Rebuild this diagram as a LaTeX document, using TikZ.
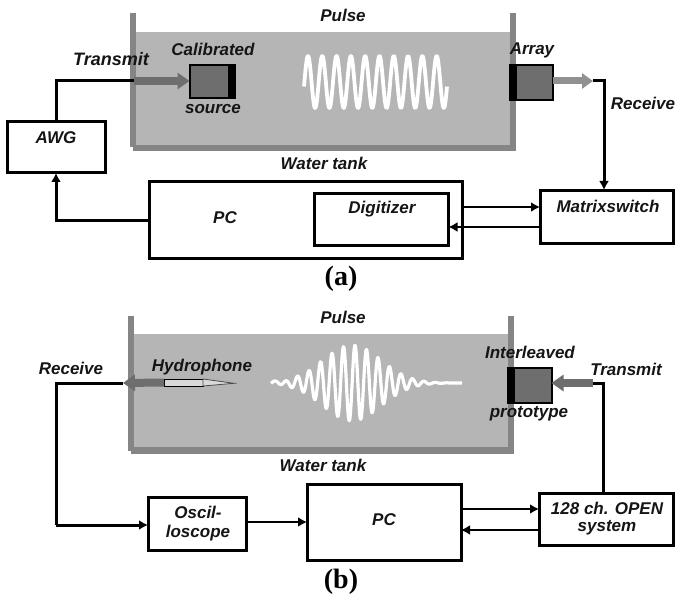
\documentclass[tikz,border=0pt]{standalone}
\usepackage{fontspec}
\setmainfont{Liberation Sans}
\newfontfamily\capfont{Liberation Serif}
\usetikzlibrary{arrows.meta,calc}
\definecolor{water}{HTML}{B5B5B5}
\definecolor{wall}{HTML}{858585}
\definecolor{probe}{HTML}{6E6E6E}
\definecolor{ink}{HTML}{151515}
\tikzset{
  box/.style={draw=black,line width=3pt,fill=white,outer sep=0pt,inner sep=0pt},
  lab/.style={font=\fontsize{17}{19}\selectfont\bfseries\itshape,text=ink,inner sep=0pt},
  biglab/.style={font=\fontsize{18}{20}\selectfont\bfseries\itshape,text=ink,inner sep=0pt},
  caplab/.style={font=\capfont\fontsize{28}{30}\selectfont\bfseries,text=black,inner sep=0pt},
  conn/.style={draw=black,line width=3pt,-{Latex[length=9pt,width=10pt]}},
  plain/.style={draw=black,line width=3pt},
  thin conn/.style={draw=black,line width=2.6pt,-{Latex[length=9pt,width=10pt]}},
  gray arrow/.style={draw=probe,line width=8pt,-{Triangle[length=12pt,width=16pt]}},
  light arrow/.style={draw=wall!90!white,line width=7pt,-{Triangle[length=11pt,width=15pt]}},
  transducer/.style={draw=black,line width=2pt,fill=probe,outer sep=0pt,inner sep=0pt},
  wave/.style={draw=white,line width=3.8pt,line join=round},
}
\begin{document}
\begin{tikzpicture}[x=1pt,y=-1pt]
\useasboundingbox (0,0) rectangle (675,599);
\fill[white] (0,0) rectangle (675,599);

% ---------- panel (a) ----------
\fill[water] (135,32) rectangle (510,145);
\fill[wall] (130,13) rectangle (135.5,147);
\fill[wall] (133,145) rectangle (516,151);
\fill[wall] (510,13) rectangle (516,151);

\draw[wave] plot[domain=304:447,samples=420] (\x,{82-26*sin((\x-304.4)/14.3*360)});

\node[transducer,minimum width=45pt,minimum height=33pt] (source) at (212,81.5) {};
\fill[black] (228,65) rectangle (235,98.5);
\node[transducer,minimum width=43pt,minimum height=35pt] (array) at (531,82.5) {};
\fill[black] (509.5,65) rectangle (517,100);

\node[box,minimum width=98pt,minimum height=51pt] (awg) at (56,147.5) {};
\node[box,minimum width=313pt,minimum height=76pt] (pca) at (305.5,220) {};
\node[box,minimum width=134pt,minimum height=52pt] (dig) at (381.5,219.5) {};
\node[box,minimum width=133pt,minimum height=52pt] (mxs) at (606.5,217) {};

\coordinate (txa) at (134,81);
\coordinate (rxa) at (593,81);
\coordinate (mxin) at (604,190);
\draw[plain] (awg.north) |- (txa);
\draw[gray arrow] (txa) -- (source.west |- txa);
\draw[light arrow] (array.east |- rxa) -- (rxa);
\draw[conn] (rxa) -| (mxin);
\draw[conn] (pca.west) -| (awg.south);
\draw[thin conn] (pca.east |- 0,207) -- (mxs.west |- 0,207);
\draw[thin conn] (mxs.west |- 0,227) -- (dig.east |- 0,227);

\node[lab] (pulsea) at (343,15) {Pulse};
\node[lab] (watera) at (324,163) {Water tank};
\node[biglab] (txlaba) at (111,59) {Transmit};
\node[lab] (cala) at (213,49) {Calibrated};
\node[lab] (srca) at (213,109) {source};
\node[lab] (awglab) at (56,138) {AWG};
\node[lab] (pcalab) at (225,218) {PC};
\node[lab] (diglab) at (382,209) {Digitizer};
\node[lab] (arrlab) at (532,50) {Array};
\node[lab] (rxlaba) at (643,103) {Receive};
\node[lab] (mxslab) at (608,206) {Matrixswitch};
\node[caplab] (capa) at (341,279) {(a)};

% ---------- panel (b) ----------
\fill[water] (134,334) rectangle (508,447);
\fill[wall] (128,316) rectangle (134,451);
\fill[wall] (131,447) rectangle (514,454);
\fill[wall] (508,316) rectangle (514,451);

\draw[wave,line width=3.2pt] plot[domain=271:462,samples=500]
  (\x,{383-38*exp(-(\x-352)*(\x-352)/1682)*sin((\x-355)/11.5*360+90)-1.2*sin((\x-271)/22*360)*exp(-(\x-271)/25)});

\node[transducer,minimum width=44pt,minimum height=35pt] (proto) at (529.5,385) {};
\fill[black] (507.5,367) rectangle (515,403);

\node[box,minimum width=98pt,minimum height=53pt] (osc) at (197,523.5) {};
\node[box,minimum width=154pt,minimum height=76pt] (pcb) at (384,522) {};
\node[box,minimum width=134pt,minimum height=52pt] (ope) at (606,519) {};

\node[draw=black,line width=1pt,fill=black!15,outer sep=0pt,inner sep=0pt,minimum width=39pt,minimum height=7pt] (hyd) at (183.5,382.5) {};
\coordinate (hydtip) at (234,383.3);
\filldraw[draw=black!70,line width=.8pt,fill=black!15] (hyd.north east) -- (hydtip) -- (hyd.south east) -- cycle;

\coordinate (rxb) at (123,383);
\coordinate (rxbc) at (56,525);
\coordinate (txb) at (593,383);
\coordinate (opeout) at (603,492);
\draw[gray arrow] (hyd.west) -- (rxb);
\draw[plain] (rxb) -| (rxbc);
\draw[conn] (rxbc) -- (osc.west |- rxbc);
\draw[thin conn] (osc.east |- 0,522) -- (pcb.west |- 0,522);
\draw[thin conn] (pcb.east |- 0,509) -- (ope.west |- 0,509);
\draw[thin conn] (ope.west |- 0,530) -- (pcb.east |- 0,530);
\draw[plain] (opeout) |- (txb);
\draw[gray arrow] (txb) -- (proto.east |- txb);

\node[lab] (pulseb) at (343,317) {Pulse};
\node[lab] (waterb) at (323,465) {Water tank};
\node[lab] (hydlab) at (202,367) {Hydrophone};
\node[lab] (rxlabb) at (71,368) {Receive};
\node[lab] (osclab1) at (198,512) {Oscil-};
\node[lab] (osclab2) at (198,533) {loscope};
\node[lab] (pcblab) at (384,520) {PC};
\node[lab] (intlab) at (530,352) {Interleaved};
\node[lab] (protolab) at (529,414) {prototype};
\node[lab] (txlabb) at (626,369) {Transmit};
\node[lab] (opelab1) at (607,508) {128 ch. OPEN};
\node[lab] (opelab2) at (607,528) {system};
\node[caplab] (capb) at (341,582) {(b)};
\end{tikzpicture}
\end{document}
